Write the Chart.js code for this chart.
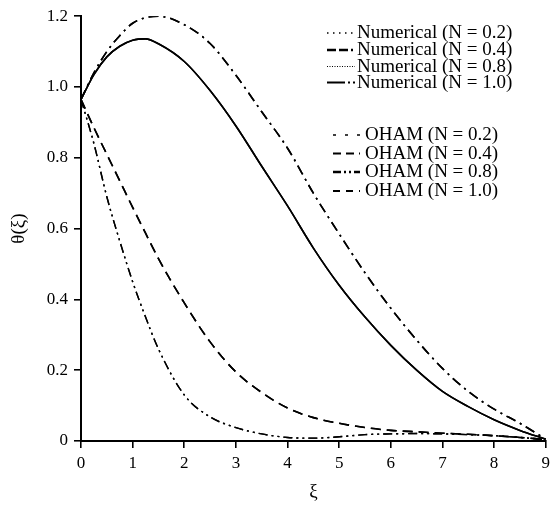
<!DOCTYPE html>
<html>
<head>
<meta charset="utf-8">
<script src="https://cdn.jsdelivr.net/npm/chart.js@4/dist/chart.umd.min.js"></script>
<style>
  html, body { margin: 0; padding: 0; background: #fff; }
  #wrap { width: 555px; height: 510px; }
</style>
</head>
<body>
<div id="wrap"><canvas id="c" width="555" height="510"></canvas></div>
<script>
// ---- data ----
const xi = [0, 0.25, 0.5, 0.75, 1, 1.25, 1.5, 2, 2.5, 3, 3.5, 4, 4.5, 5, 5.5, 6, 6.5, 7, 7.5, 8, 8.5, 9];

const numN02 = [0.965, 0.84, 0.69, 0.565, 0.45, 0.35, 0.26, 0.13, 0.068, 0.038, 0.02, 0.01, 0.008, 0.012, 0.018, 0.02, 0.021, 0.02, 0.018, 0.015, 0.01, 0.004];
const numN04 = [0.965, 0.885, 0.81, 0.735, 0.66, 0.587, 0.515, 0.39, 0.28, 0.195, 0.137, 0.093, 0.066, 0.05, 0.038, 0.03, 0.026, 0.022, 0.019, 0.015, 0.01, 0.004];
const numN08 = [0.965, 1.04, 1.10, 1.145, 1.18, 1.196, 1.2, 1.176, 1.123, 1.033, 0.93, 0.827, 0.70, 0.585, 0.475, 0.375, 0.285, 0.205, 0.14, 0.09, 0.05, 0.005];
const numN10 = [0.965, 1.035, 1.085, 1.115, 1.132, 1.136, 1.122, 1.072, 0.99, 0.89, 0.776, 0.664, 0.545, 0.44, 0.35, 0.27, 0.2, 0.14, 0.097, 0.06, 0.03, 0.005];

const ohamN02 = [0.965, 0.84, 0.69, 0.565, 0.45, 0.35, 0.26, 0.13, 0.068, 0.038, 0.02, 0.01, 0.008, 0.012, 0.018, 0.02, 0.021, 0.02, 0.018, 0.015, 0.01, 0.004];
const ohamN04 = [0.965, 0.885, 0.81, 0.735, 0.66, 0.587, 0.515, 0.39, 0.28, 0.195, 0.137, 0.093, 0.066, 0.05, 0.038, 0.03, 0.026, 0.022, 0.019, 0.015, 0.01, 0.004];
const ohamN08 = [0.965, 1.04, 1.10, 1.145, 1.18, 1.196, 1.2, 1.176, 1.123, 1.033, 0.93, 0.827, 0.70, 0.585, 0.475, 0.375, 0.285, 0.205, 0.14, 0.09, 0.05, 0.005];
const ohamN10 = [0.965, 1.035, 1.085, 1.115, 1.132, 1.136, 1.122, 1.072, 0.99, 0.89, 0.776, 0.664, 0.545, 0.44, 0.35, 0.27, 0.2, 0.14, 0.097, 0.06, 0.03, 0.005];

const seriesLabels = [
  'Numerical (N = 0.2)', 'Numerical (N = 0.4)', 'Numerical (N = 0.8)', 'Numerical (N = 1.0)',
  'OHAM (N = 0.2)', 'OHAM (N = 0.4)', 'OHAM (N = 0.8)', 'OHAM (N = 1.0)'
];
const xTickLabels = ['0', '1', '2', '3', '4', '5', '6', '7', '8', '9'];
const yTickLabels = ['0', '0.2', '0.4', '0.6', '0.8', '1.0', '1.2'];
const xTitle = 'ξ';
const yTitle = 'θ(ξ)';

// ---- styles ----
const FONT = '"Liberation Serif", "Times New Roman", serif';
const curveDash = { '0.2': [9, 4, 2, 4, 2, 4], '0.4': [10, 6], '0.8': [10, 5, 2, 5], '1.0': [] };
const legendDash = [[1.5, 4.5], [9, 3, 9, 3, 2, 3], [1, 1.5], [18, 3, 2, 3], [3, 9], [8, 5], [8, 3, 2, 3, 2, 3], [7, 6]];
const legendWidth = [1.6, 2.6, 1.2, 2, 1.6, 1.8, 2.6, 1.8];

function pts(arr) { return xi.map((x, i) => ({ x: x, y: arr[i] })); }
const allSeries = [numN02, numN04, numN08, numN10, ohamN02, ohamN04, ohamN08, ohamN10];
const nKeys = ['0.2', '0.4', '0.8', '1.0', '0.2', '0.4', '0.8', '1.0'];

const datasets = allSeries.map((arr, i) => ({
  label: seriesLabels[i],
  data: pts(arr),
  borderColor: '#000',
  backgroundColor: '#000',
  borderWidth: nKeys[i] === '0.2' ? 1.4 : 1.6,
  borderDash: curveDash[nKeys[i]],
  pointRadius: 0,
  fill: false,
  cubicInterpolationMode: 'monotone'
}));

const legendPlugin = {
  id: 'customLegend',
  afterDraw(chart) {
    const ctx = chart.ctx;
    const rowsY = [33, 50, 66.5, 82.5, 135, 153.5, 172, 191];
    ctx.save();
    ctx.font = '19px ' + FONT;
    ctx.fillStyle = '#000';
    ctx.textBaseline = 'middle';
    ctx.textAlign = 'left';
    chart.data.datasets.forEach((ds, i) => {
      const isNum = i < 4;
      const x0 = isNum ? 327 : 333;
      const x1 = isNum ? 355 : 360;
      const tx = isNum ? 357 : 365;
      const y = rowsY[i];
      ctx.beginPath();
      ctx.setLineDash(legendDash[i]);
      ctx.lineWidth = legendWidth[i];
      ctx.strokeStyle = '#000';
      ctx.moveTo(x0, y);
      ctx.lineTo(x1, y);
      ctx.stroke();
      ctx.setLineDash([]);
      ctx.fillText(ds.label, tx, y + 0.5);
    });
    ctx.restore();
  }
};

new Chart(document.getElementById('c'), {
  type: 'line',
  data: { datasets: datasets },
  plugins: [legendPlugin],
  options: {
    responsive: false,
    animation: false,
    layout: { padding: { left: 0, top: 14, right: 4, bottom: 0 } },
    plugins: { legend: { display: false }, tooltip: { enabled: false } },
    scales: {
      x: {
        type: 'linear',
        min: 0, max: 9,
        ticks: {
          stepSize: 1,
          color: '#000',
          font: { family: FONT, size: 17 },
          padding: 5,
          maxRotation: 0,
          callback: (v, i) => xTickLabels[i]
        },
        grid: { display: true, drawOnChartArea: false, drawTicks: true, tickLength: 7, color: '#000', lineWidth: 1.6 },
        border: { display: true, color: '#000', width: 2 },
        title: { display: true, text: xTitle, color: '#000', font: { family: FONT, size: 19 }, padding: { top: 0, bottom: 7 } },
        afterFit: s => { s.height = 69; }
      },
      y: {
        min: 0, max: 1.2,
        ticks: {
          stepSize: 0.2,
          color: '#000',
          font: { family: FONT, size: 17 },
          padding: 6,
          callback: (v, i) => yTickLabels[i]
        },
        grid: { display: true, drawOnChartArea: false, drawTicks: true, tickLength: 7, color: '#000', lineWidth: 1.6 },
        border: { display: true, color: '#000', width: 2 },
        title: { display: true, text: yTitle, color: '#000', font: { family: FONT, size: 19 }, padding: { top: 8, bottom: 0 } },
        afterFit: s => { s.width = 81; }
      }
    }
  }
});
</script>
</body>
</html>
